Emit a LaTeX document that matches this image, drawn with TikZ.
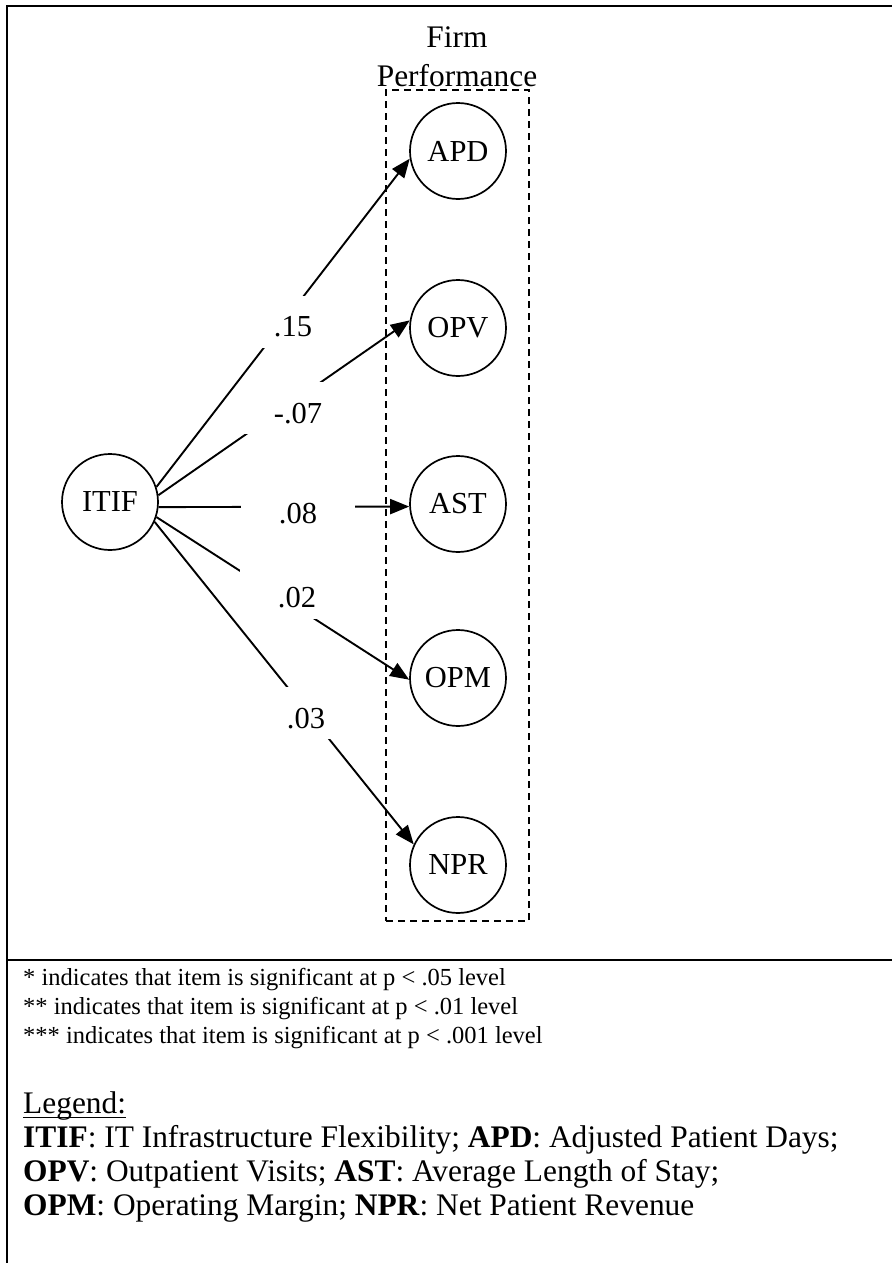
\documentclass[tikz,border=0pt]{standalone}
\usepackage{fontspec}
\setmainfont{Liberation Serif}
\usetikzlibrary{arrows.meta}
\newcommand\mainsize{\fontsize{30.5}{35}\selectfont}
\newcommand\legsize{\fontsize{31.4}{36}\selectfont}
\newcommand\notesize{\fontsize{24.5}{28}\selectfont}
\begin{document}
\begin{tikzpicture}[x=1pt,y=-1pt,
  var/.style={circle,draw,line width=1.7pt,minimum size=96pt,inner sep=0pt,font=\mainsize},
  coef/.style={fill=white,minimum width=114pt,minimum height=52pt,inner sep=0pt,
               text height=30pt,text depth=0pt,font=\mainsize},
  link/.style={line width=1.9pt,-{Triangle[length=19pt,width=15pt]}},
  frame/.style={line width=2.8pt},
  group/.style={draw,line width=1.6pt,dash pattern=on 7pt off 5pt,inner sep=0pt},
  title/.style={anchor=base,inner sep=0pt,font=\legsize},
  note/.style={anchor=base west,inner sep=0pt,font=\notesize},
  legline/.style={anchor=base west,inner sep=0pt,font=\legsize}]
\useasboundingbox (0,0) rectangle (892,1263);

% outer frame and divider between model and notes
\draw[frame] (7,1263) -- (7,6) -- (892,6);
\draw[frame] (7,960) -- (892,960);

% construct group
\node[title] (title1) at (457,48) {Firm};
\node[title] (title2) at (457,86) {Performance};
\node[group,minimum width=143pt,minimum height=831pt] (perf) at (457.5,505.5) {};

% variables
\node[var] (itif) at (110,502) {ITIF};
\node[var] (apd) at (458,151) {APD};
\node[var] (opv) at (458,328) {OPV};
\node[var] (ast) at (458,504) {AST};
\node[var] (opm) at (458,678) {OPM};
\node[var] (npr) at (458,865) {NPR};

% paths
\draw[link] (itif.18) -- (apd.189);
\draw[link] (itif.8) -- (opv.171);
\draw[link] (itif.-6) -- (ast.183);
\draw[link] (itif.-18) -- (opm.182);
\draw[link] (itif.-24) -- (npr.155);

% path coefficients
\node[coef] (c1) at (293,321.5) {.15};
\node[coef] (c2) at (298,408) {-.07};
\node[coef] (c3) at (298,508) {.08};
\node[coef] (c4) at (297,592.5) {.02};
\node[coef] (c5) at (306,713) {.03};

% significance notes
\node[note] (n1) at (23,985) {* indicates that item is significant at p < .05 level};
\node[note] (n2) at (23,1014) {** indicates that item is significant at p < .01 level};
\node[note] (n3) at (23,1043) {*** indicates that item is significant at p < .001 level};

% legend
\node[legline] (leg) at (23,1113) {Legend:};
\draw[line width=1.4pt] ([yshift=-4.5pt]leg.base west) -- ([yshift=-4.5pt]leg.base east);
\node[legline] (l1) at (23,1147) {\textbf{ITIF}: IT Infrastructure Flexibility; \textbf{APD}: Adjusted Patient Days;};
\node[legline] (l2) at (23,1181) {\textbf{OPV}: Outpatient Visits; \textbf{AST}: Average Length of Stay;};
\node[legline] (l3) at (23,1215) {\textbf{OPM}: Operating Margin; \textbf{NPR}: Net Patient Revenue};
\end{tikzpicture}
\end{document}
